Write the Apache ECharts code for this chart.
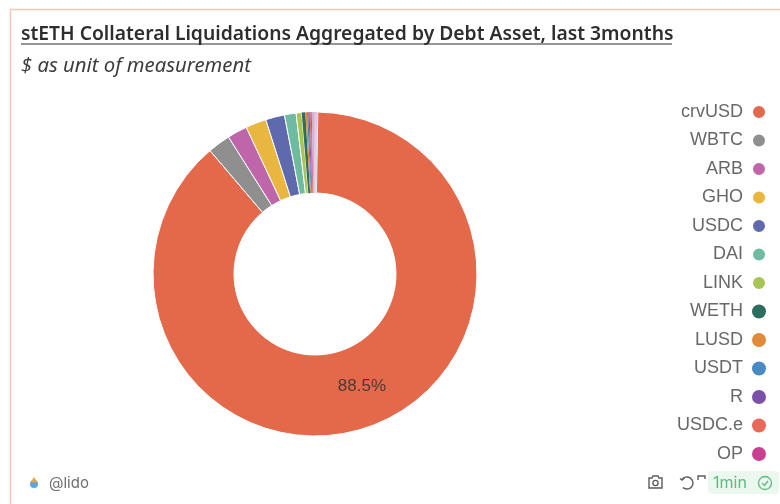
<!DOCTYPE html>
<html>
<head>
<meta charset="utf-8">
<style>
  html, body { margin: 0; padding: 0; background: #fff; }
  #chart { width: 780px; height: 504px; }
</style>
<script src="https://cdn.jsdelivr.net/npm/echarts@6/dist/echarts.min.js"></script>
</head>
<body>
<div id="chart"></div>
<script>
// Debt assets named in the legend, largest first
const legendAssets = ['crvUSD', 'WBTC', 'ARB', 'GHO', 'USDC', 'DAI', 'LINK', 'WETH', 'LUSD', 'USDT', 'R', 'USDC.e', 'OP'];
// Share of liquidated value, percent
const legendShares = [88.5, 2.26, 1.99, 2.06, 1.89, 1.16, 0.55, 0.36, 0.16, 0.14, 0.12, 0.11, 0.1];
const legendColors = ['#e4694a', '#8f8f8f', '#bf66aa', '#e9b73f', '#5f69ae', '#6fbba2', '#a6c552', '#2e6e60', '#e08b39', '#4a8ac4', '#7a50a8', '#e8695a', '#c8408f'];
// Long tail of tiny assets that the legend has no room for
const tailAssets = ['sUSD', 'FRAX', 'MIM', 'AAVE'];
const tailShares = [0.22, 0.18, 0.13, 0.07];
const tailColors = ['#c3b6dc', '#e9b9cf', '#d9c9e4', '#a9dde0'];

const assets = legendAssets.concat(tailAssets);
const shares = legendShares.concat(tailShares);
const colors = legendColors.concat(tailColors);

const titleText = 'stETH Collateral Liquidations Aggregated by Debt Asset, last 3months';
const subtitleText = '$ as unit of measurement';

const stroke = function (color, width) { return { fill: null, stroke: color, lineWidth: width }; };

const chart = echarts.init(document.getElementById('chart'), null, { renderer: 'canvas' });
chart.setOption({
  animation: false,
  color: colors,
  title: {
    text: titleText,
    subtext: subtitleText,
    left: 21,
    top: 25,
    padding: 0,
    itemGap: 12,
    textStyle: { fontFamily: 'Noto Sans', fontSize: 19.3, fontWeight: 600, color: '#2e2e2e' },
    subtextStyle: { fontFamily: 'Noto Sans', fontSize: 20.3, fontStyle: 'italic', color: '#3d3d3d' }
  },
  legend: {
    orient: 'vertical',
    right: 13,
    top: 103,
    padding: 0,
    align: 'right',
    icon: 'circle',
    itemWidth: 14,
    itemHeight: 14,
    itemGap: 10.5,
    data: legendAssets,
    selectedMode: false,
    textStyle: { fontFamily: 'Liberation Sans', fontSize: 18, color: '#686868', lineHeight: 15, padding: [0, 4, 0, 0] }
  },
  series: [{
    type: 'pie',
    center: [315, 274],
    radius: [81, 162],
    startAngle: 89,
    avoidLabelOverlap: false,
    emphasis: { disabled: true },
    labelLine: { show: false },
    label: {
      show: true,
      position: 'inside',
      fontFamily: 'Liberation Sans',
      fontSize: 17,
      color: '#4a3a36',
      formatter: function (p) { return p.dataIndex === 0 ? p.value.toFixed(1) + '%' : ''; },
      offset: [5, -5]
    },
    // Hairline separators on the tiny slices so their colours stay visible
    data: assets.map(function (name, i) {
      return {
        name: name,
        value: shares[i],
        itemStyle: { borderColor: '#fff', borderWidth: shares[i] < 0.5 ? 0 : 1 }
      };
    })
  }],
  graphic: [
    // Card outline along the top and left edges
    { type: 'polyline', silent: true, shape: { points: [[10.5, 504], [10.5, 9.5], [780, 9.5]] }, style: stroke('#f8c6b6', 1.5) },
    // Title underline
    { type: 'line', silent: true, shape: { x1: 21, y1: 44, x2: 672, y2: 44 }, style: stroke('#2e2e2e', 1.2) },
    // Owner badge
    { type: 'circle', silent: true, shape: { cx: 34, cy: 484, r: 4 }, style: { fill: '#5aa5e6' } },
    { type: 'polygon', silent: true, shape: { points: [[34, 477], [37.4, 482.5], [30.6, 482.5]] }, style: { fill: '#e8a23c' } },
    { type: 'text', silent: true, style: { x: 49, y: 483, text: '@lido', fontFamily: 'Inter', fontSize: 15, fill: '#6f6f6f', verticalAlign: 'middle' } },
    // Camera icon
    { type: 'polygon', silent: true, shape: { points: [[649, 478], [652, 478], [653, 476], [658, 476], [659, 478], [662, 478], [662, 488], [649, 488]] }, style: stroke('#5c5c5c', 1.4) },
    { type: 'circle', silent: true, shape: { cx: 655.5, cy: 483, r: 2.6 }, style: stroke('#5c5c5c', 1.3) },
    // Refresh icons
    { type: 'arc', silent: true, shape: { cx: 687, cy: 483, r: 6, startAngle: -2.6, endAngle: 2.3, clockwise: true }, style: stroke('#5c5c5c', 1.4) },
    { type: 'polyline', silent: true, shape: { points: [[680, 478.5], [682, 480], [684.5, 478]] }, style: stroke('#5c5c5c', 1.4) },
    { type: 'polyline', silent: true, shape: { points: [[698, 480], [698, 476], [705, 476], [705, 479]] }, style: stroke('#5c5c5c', 1.4) },
    // Freshness badge
    { type: 'rect', silent: true, shape: { x: 708, y: 471, width: 71, height: 23, r: 4 }, style: { fill: '#ebf7ef' } },
    { type: 'text', silent: true, style: { x: 713, y: 483, text: '1min', fontFamily: 'Inter', fontSize: 16, fill: '#5dbb7d', verticalAlign: 'middle' } },
    { type: 'circle', silent: true, shape: { cx: 765, cy: 483, r: 6.5 }, style: stroke('#5dbb7d', 1.3) },
    { type: 'polyline', silent: true, shape: { points: [[762, 483], [764.5, 485.5], [768, 481]] }, style: stroke('#5dbb7d', 1.3) }
  ]
});
</script>
</body>
</html>
